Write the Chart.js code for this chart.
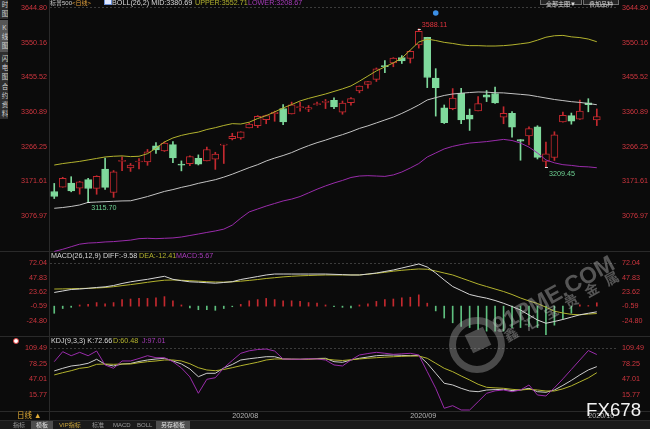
<!DOCTYPE html>
<html><head><meta charset="utf-8">
<script src="https://cdn.jsdelivr.net/npm/chart.js@4.4.1/dist/chart.umd.min.js"></script>
<style>
html,body{margin:0;padding:0;background:#0b0b0b;}
body{width:650px;height:429px;position:relative;overflow:hidden;font-family:"Liberation Sans","Noto Sans CJK SC",Arial,sans-serif;}
canvas{position:absolute;left:0;z-index:2;}
.t{position:absolute;white-space:nowrap;font-size:7.2px;line-height:8px;z-index:3;}
.hl{position:absolute;left:0;width:650px;height:1px;background:#2a2a2a;z-index:1;}
.side{position:absolute;left:0;width:8px;background:#2e2e2e;color:#d0d0d0;font-size:6.5px;writing-mode:vertical-rl;text-orientation:upright;letter-spacing:2.5px;line-height:8px;text-align:center;z-index:3;overflow:hidden;}
.tab{position:absolute;top:421px;height:8px;font-size:6px;line-height:8px;color:#9a9a9a;padding:0 3px;z-index:3;}
.btn{position:absolute;top:-5px;height:10px;border:1px solid #707070;background:#242424;color:#dcdcdc;font-size:6px;line-height:16px;text-align:center;box-sizing:border-box;z-index:3;}
.wm{position:absolute;white-space:nowrap;color:rgba(190,190,190,0.42);font-weight:bold;z-index:4;}
</style></head><body>
<canvas id="cMain" width="650" height="252" style="top:0"></canvas>
<canvas id="cMacd" width="650" height="84" style="top:252px"></canvas>
<canvas id="cKdj" width="650" height="85" style="top:336px"></canvas>

<div class="hl" style="top:251px"></div>
<div class="hl" style="top:336px"></div>
<div class="hl" style="top:411px"></div>
<div class="hl" style="top:420px"></div>
<div style="position:absolute;left:49px;top:0;width:1px;height:421px;background:#2a2a2a;z-index:1"></div>
<div style="position:absolute;left:0;top:421px;width:650px;height:8px;background:#1a1a1a;z-index:1"></div>

<div class="side" style="top:-9px;height:28px;padding-top:0">分时图</div>
<div class="side" style="top:20px;height:31px;background:#565656;padding-top:2px">K线图</div>
<div class="side" style="top:52px;height:30px;padding-top:1px">闪电图</div>
<div class="side" style="top:83px;height:36px">合约资料</div>

<div id="hdrMain"></div>
<div id="hdrMacd"></div>
<div id="hdrKdj"></div>
<div style="position:absolute;left:13px;top:338px;width:4px;height:4px;border:1px solid #e04040;border-radius:50%;background:#fff;z-index:3"></div>

<div class="btn" style="left:540px;width:42px">全部主图▼</div>
<div class="btn" style="left:583px;width:36px">叠加品种</div>

<div class="t" style="left:17px;top:412px;color:#e3ad35;font-size:7.5px">日线 ▲</div>
<div class="tab" style="left:10px">指标</div>
<div class="tab" style="left:31px;background:#4e4e4e;color:#e0e0e0;padding:0 5px">模板</div>
<div class="tab" style="left:56px;color:#cda63a">VIP指标</div>
<div class="tab" style="left:89px">标准</div>
<div class="tab" style="left:110px">MACD</div>
<div class="tab" style="left:134px">BOLL</div>
<div class="tab" style="left:156px;background:#4e4e4e;color:#e0e0e0;padding:0 5px">另存模板</div>

<div style="position:absolute;left:449px;top:317px;width:56px;height:56px;box-sizing:border-box;border:7px solid rgba(170,170,170,0.40);border-radius:50%;z-index:4"></div>
<div style="position:absolute;left:468px;top:330px;width:20px;height:20px;background:rgba(170,170,170,0.40);transform:rotate(-25deg);z-index:4"></div>
<div class="wm" style="left:494px;top:315px;font-size:23px;line-height:24px;transform:rotate(-29deg);transform-origin:0 50%">91PME.COM</div>
<div class="wm" style="left:505px;top:330px;font-size:14px;line-height:16px;letter-spacing:9px;transform:rotate(-29deg);transform-origin:0 50%">鑫汇宝贵金属</div>
<div class="t" style="left:586px;top:400px;font-size:18.7px;line-height:19px;color:#f2f2f2;z-index:5">FX678</div>

<script>
// ---------- data ----------
const symbolName = '标普500';
const periodName = '日线';
const dates = ['2020-07-02','2020-07-06','2020-07-07','2020-07-08','2020-07-09','2020-07-10','2020-07-13','2020-07-14','2020-07-15','2020-07-16','2020-07-17','2020-07-20','2020-07-21','2020-07-22','2020-07-23','2020-07-24','2020-07-27','2020-07-28','2020-07-29','2020-07-30','2020-07-31',
'2020-08-03','2020-08-04','2020-08-05','2020-08-06','2020-08-07','2020-08-10','2020-08-11','2020-08-12','2020-08-13','2020-08-14','2020-08-17','2020-08-18','2020-08-19','2020-08-20','2020-08-21','2020-08-24','2020-08-25','2020-08-26','2020-08-27','2020-08-28','2020-08-31',
'2020-09-01','2020-09-02','2020-09-03','2020-09-04','2020-09-08','2020-09-09','2020-09-10','2020-09-11','2020-09-14','2020-09-15','2020-09-16','2020-09-17','2020-09-18','2020-09-21','2020-09-22','2020-09-23','2020-09-24','2020-09-25','2020-09-28','2020-09-29','2020-09-30',
'2020-10-01','2020-10-02'];
const open = [3143.64,3155.29,3166.44,3153.07,3176.17,3152.47,3205.08,3141.11,3225.98,3208.36,3224.21,3224.29,3268.52,3254.86,3271.64,3218.58,3219.84,3234.27,3227.22,3231.76,3270.45,
3288.26,3289.92,3317.37,3323.17,3340.05,3356.04,3370.34,3355.46,3372.95,3368.66,3380.86,3387.04,3392.51,3360.48,3386.01,3418.09,3435.95,3449.97,3485.14,3494.69,3509.73,
3507.44,3543.76,3564.74,3453.60,3371.88,3369.82,3412.56,3352.70,3363.56,3407.73,3411.23,3346.86,3357.38,3285.57,3295.75,3320.11,3226.14,3236.66,3333.90,3350.92,3341.21,
3385.87,3338.94];
const high = [3165.81,3182.59,3184.15,3171.80,3179.78,3186.82,3235.32,3200.95,3238.28,3220.39,3233.52,3258.61,3277.29,3279.32,3279.99,3227.26,3241.43,3243.72,3264.74,3250.92,3272.17,
3302.73,3306.84,3330.77,3351.03,3352.54,3363.29,3381.01,3387.89,3387.24,3378.51,3387.59,3395.06,3399.54,3390.80,3399.96,3432.09,3444.21,3481.07,3501.38,3509.23,3514.77,
3528.03,3588.11,3564.85,3479.15,3379.97,3424.77,3425.55,3368.95,3402.93,3419.48,3428.92,3375.17,3362.27,3285.57,3320.31,3323.35,3278.70,3306.88,3360.74,3357.92,3393.56,
3397.18,3369.10];
const low = [3124.52,3155.29,3142.93,3136.53,3115.70,3136.22,3149.43,3127.66,3200.76,3198.59,3205.65,3215.16,3247.77,3253.10,3222.66,3200.05,3214.25,3216.17,3227.22,3204.13,3220.26,
3284.53,3286.37,3317.37,3318.14,3328.72,3335.44,3326.44,3355.46,3363.35,3361.64,3379.22,3370.15,3369.66,3354.69,3379.31,3413.13,3425.84,3444.15,3468.35,3484.32,3493.25,
3494.60,3535.23,3427.41,3349.63,3329.27,3366.84,3329.25,3310.47,3363.56,3389.25,3384.45,3328.82,3292.40,3229.10,3270.95,3232.57,3209.45,3228.44,3332.91,3327.54,3340.47,
3361.39,3323.69];
const close = [3130.01,3179.72,3145.32,3169.94,3152.05,3185.04,3155.22,3197.52,3226.56,3215.57,3224.73,3251.84,3257.30,3276.02,3235.66,3215.63,3239.41,3218.44,3258.44,3246.22,3271.12,
3294.61,3306.51,3327.77,3349.16,3351.28,3360.47,3333.69,3380.35,3373.43,3372.85,3381.99,3389.78,3374.85,3385.51,3397.16,3431.28,3443.62,3478.73,3484.55,3508.01,3500.31,
3526.65,3580.84,3455.06,3426.96,3331.84,3398.96,3339.19,3340.97,3383.54,3401.20,3385.49,3357.01,3319.47,3281.06,3315.57,3236.92,3246.59,3298.46,3351.60,3335.47,3363.00,
3380.80,3348.42];

const bollUpper = [3216,3220,3223,3226,3230,3234,3238,3240,3241,3239,3240,3247,3262,3279,3290,3297,3302,3306,3313,3318,3324,3329,3328,3333,3343,3351,3361,3372,3381,3391,
3398,3404,3410,3417,3424,3432,3445,3459,3473,3484,3495,3508,3530,3552,3560,3556,3551,3548,3544,3542,3542,3541,3541,3542,3544,3547,3550,3557,3565,3569,3570,3566,3564,3560,3552.71];
const bollMid = [3097.9,3100,3103,3107,3114,3115,3116,3117,3118,3118.4,3124,3130,3137,3144,3149,3155,3160,3166,3171,3176,3183,3191,3200,3209,3217,3227,3235,3242,3250,3260,
3269,3277,3284,3292,3299,3307,3316,3323,3331,3339,3347,3357,3368,3380,3393.6,3400,3406,3410,3412,3414,3415.5,3415,3413.5,3413,3411,3409,3407,3403,3399,3395,3392,3389,3387,3384,3380.69];
const bollLower = [2980,2986,2993,3000,3003,3004,3006,3007,3009,3011,3015,3016,3015,3016,3017,3019.5,3023.6,3027.7,3032,3036,3041,3052,3071,3088,3096,3104,3111,3118,3123,3130,
3140,3150,3159,3167,3174,3182,3186,3187,3186,3185,3189,3197,3208,3220,3238,3249,3260,3267,3272,3276,3278,3280,3283,3286,3283,3276,3265,3249,3230,3222,3217,3215,3212,3211,3208.67];

const macdDiff = [23.0,25.5,28.0,28.8,30.0,31.4,32.5,34.7,38.1,40.9,43.1,45.1,47.7,50.2,45.1,42.8,40.9,40.3,39.4,38.6,39.8,41.1,44.8,47.3,49.8,52.4,54.0,54.0,54.0,54.0,
54.0,54.0,54.0,53.5,53.0,52.4,52.4,54.0,55.7,58.3,60.8,64.1,67.5,70.9,65.8,55.7,44.0,33.0,26.3,19.6,16.2,13.4,9.5,4.8,-0.6,-6.5,-14.9,-23.3,-28.8,-25.8,-22.4,-18.5,-14.5,-12.0,-9.58];
const macdDea = [28.8,29.0,29.3,29.7,30.0,30.5,31.3,32.7,34.5,36.2,38.1,40.1,42.0,43.6,44.0,43.5,42.8,42.0,41.1,40.6,40.4,40.9,42.0,43.3,44.8,46.5,47.8,49.2,50.2,51.0,
51.5,52.0,52.4,52.4,52.4,52.4,52.4,53.7,55.2,56.9,58.8,60.3,61.5,62.5,62.0,59.1,55.7,52.4,47.3,42.3,37.2,33.0,28.8,24.6,19.6,13.7,8.7,4.5,-1.9,-8.5,-11.5,-13.8,-14.6,-13.3,-12.41];
const macdHist = [-12,-4,-2,2,3,6,4,6,11,12,13,13,14,16,9,2,-3,-6,-6,-7,-4,-1,3,9,11,13,11,9,9,8,
6,5,2,-1,-2,-3,2,4,8,11,12,14,15,19,5,-8,-20,-28,-34,-36,-39,-42,-42,-42,-36,-36,-34,-36,-48,-32,-21,-12,2,1,5.67];

const kdjK = [64,69.3,73.9,75.9,79.4,87.4,77.3,73.9,77.9,79,83,86,88,89.4,84,78,68,52.4,59.3,59.3,70,77,86,88.5,90.5,92.6,92.6,88,87.6,87.4,
88,89,89.4,82.6,81.3,86,89.4,92,94.6,95.5,96,95.3,94.6,95.3,79.4,59.3,39.2,35.8,29.1,23.7,22.3,25.7,26.5,27.1,24.5,25.7,29.1,22.3,21.1,25.7,35,45,56,66,72.66];
const kdjD = [56,60.5,64.5,69.3,71.3,77.3,77.9,77.3,77.9,77.9,80.5,82.6,84,86,86,84,78.5,70.5,65.9,64.5,67,70.5,74.5,78,81.5,86,88,88,87.6,87.4,
87.6,88,88,86,85,86.5,88,89.5,90.6,91.7,92.6,93.3,94,94,89.4,79.4,69.3,62.5,53.9,45.8,37.2,31.1,30,29.1,27.1,25.7,27.1,25.7,23.7,23.7,28,34,42,50,60.48];
const kdjJ = [82.6,102.7,94.6,101.4,94.6,104.1,75.9,69.3,84,84,89,94.6,90.6,90.6,82.6,70,52,19.1,47.2,50.4,70,85,99.4,104.5,107,108,104,88,87.6,87.4,
88.5,88,86,76,74,86,96,99,101.4,99.5,97.4,98.4,99.4,96,62.5,29.1,-11,-5.8,-14.5,-14.5,2.2,19.1,24,25.7,22.3,25.7,35.8,15.7,13.7,30,48,67,86,105,97.01];

const priceTicks = [3644.80, 3550.16, 3455.52, 3360.89, 3266.25, 3171.61, 3076.97];
const macdTicks = [72.04, 47.83, 23.62, -0.59, -24.80];
const kdjTicks = [109.49, 78.25, 47.01, 15.77];
const monthTickDates = ['2020-08-03', '2020-09-01', '2020-10-01'];
const monthTickLabels = ['2020/08', '2020/09', '2020/10'];
const highMarkDates = ['2020-09-02'];
const lowMarkDates = ['2020-07-09', '2020-09-24'];
const eventDates = ['2020-09-04'];

// ---------- style ----------
const BG = '#0b0b0b';
const RED = '#c4292f';
const GREEN = '#7fd99c';
const AXIS_RED = '#d0363f';
const FONT = '"Liberation Sans", Arial, sans-serif';
const C_WHITE = '#cdcdcd', C_YEL = '#b3b32e', C_PUR = '#9a2cab';

const xLabels = dates.concat([' ', '  ']);
const up = dates.map((d, i) => close[i] >= open[i]);

function xScale(show) {
  const s = {type: 'category', labels: xLabels, offset: true, display: show,
    grid: {display: false, drawTicks: false, tickLength: 0}, border: {display: false}};
  if (show) {
    s.ticks = {autoSkip: false, maxRotation: 0, minRotation: 0, align: 'start', padding: 1,
      color: '#b5b5b5', font: {family: FONT, size: 7.2},
      callback: (v, i) => { const k = monthTickDates.indexOf(xLabels[i]); return k >= 0 ? monthTickLabels[k] : ''; }};
    s.afterFit = sc => { sc.height = 10; sc.paddingLeft = 0; sc.paddingRight = 0; };
  }
  return s;
}
function yScales(min, max, tickArr) {
  const mk = (pos) => ({
    type: 'linear', position: pos, min: min, max: max,
    afterBuildTicks: s => { s.ticks = tickArr.map(v => ({value: v})); },
    ticks: {color: AXIS_RED, autoSkip: false, padding: pos === 'left' ? 3 : 4,
      font: {family: FONT, size: 7.2}, callback: v => Number(v).toFixed(2)},
    border: {display: false, dash: [2, 2]},
    grid: pos === 'left'
      ? {drawTicks: false, lineWidth: 1, color: c => (c.tick && c.tick.value === tickArr[0]) ? '#3c3c3c' : 'rgba(0,0,0,0)'}
      : {display: false, drawTicks: false},
    afterFit: s => { s.width = pos === 'left' ? 50 : 32; s.paddingTop = 0; s.paddingBottom = 0; }
  });
  return {y: mk('left'), y2: mk('right')};
}
const baseOpts = {responsive: false, animation: false, devicePixelRatio: 1, events: [],
  layout: {autoPadding: false, padding: 0},
  plugins: {legend: {display: false}, tooltip: {enabled: false}}};
function line(data, color, order) {
  return {type: 'line', data: data, borderColor: color, borderWidth: 1, pointRadius: 0, tension: 0, fill: false, order: order, yAxisID: 'y'};
}

// ---------- main chart ----------
const markPlugin = {
  id: 'marks',
  afterDatasetsDraw(chart) {
    const {ctx, scales: {x, y}, chartArea} = chart;
    ctx.save();
    ctx.font = '7.2px ' + FONT;
    ctx.textAlign = 'left'; ctx.textBaseline = 'middle';
    const draw = (d, isHigh) => {
      const i = dates.indexOf(d);
      const v = isHigh ? high[i] : low[i];
      const px = x.getPixelForValue(i), py = y.getPixelForValue(v);
      ctx.strokeStyle = '#e6e6e6'; ctx.lineWidth = 1;
      ctx.beginPath(); ctx.moveTo(px - 1, Math.round(py) + 0.5); ctx.lineTo(px + 2, Math.round(py) + 0.5); ctx.stroke();
      ctx.fillStyle = isHigh ? '#e0343e' : '#6fd394';
      ctx.fillText(v.toFixed(2), px + 3, isHigh ? py - 4 : py + 6.5);
    };
    highMarkDates.forEach(d => draw(d, true));
    lowMarkDates.forEach(d => draw(d, false));
    eventDates.forEach(d => {
      const px = x.getPixelForValue(dates.indexOf(d));
      ctx.fillStyle = '#3b8fe6';
      ctx.beginPath(); ctx.arc(px, chartArea.top + 13, 2.8, 0, Math.PI * 2); ctx.fill();
    });
    ctx.restore();
  }
};
new Chart(document.getElementById('cMain'), {
  type: 'bar',
  data: {labels: xLabels, datasets: [
    line(bollUpper, C_YEL, 1), line(bollMid, '#c4c4c4', 1), line(bollLower, C_PUR, 1),
    {type: 'bar', data: dates.map((d, i) => [open[i], close[i]]), grouped: false, order: 2, yAxisID: 'y',
      barThickness: 7, minBarLength: 1, borderWidth: 1, borderSkipped: false,
      backgroundColor: up.map(u => u ? BG : GREEN), borderColor: up.map(u => u ? RED : GREEN)},
    {type: 'bar', data: dates.map((d, i) => [low[i], high[i]]), grouped: false, order: 3, yAxisID: 'y',
      barThickness: 1, borderWidth: 0, backgroundColor: up.map(u => u ? RED : GREEN)}
  ]},
  options: Object.assign({}, baseOpts, {scales: Object.assign({x: xScale(false)}, yScales(2978.56, 3666.64, priceTicks))}),
  plugins: [markPlugin]
});

// ---------- MACD ----------
new Chart(document.getElementById('cMacd'), {
  type: 'bar',
  data: {labels: xLabels, datasets: [
    line(macdDiff, '#d6d6d6', 1), line(macdDea, C_YEL, 1),
    {type: 'bar', data: macdHist, grouped: false, order: 2, yAxisID: 'y', barThickness: 1, borderWidth: 0,
      backgroundColor: macdHist.map(v => v >= 0 ? RED : '#5ebf7e')}
  ]},
  options: Object.assign({}, baseOpts, {scales: Object.assign({x: xScale(false)}, yScales(-50.2, 91.04, macdTicks))})
});

// ---------- KDJ ----------
new Chart(document.getElementById('cKdj'), {
  type: 'line',
  data: {labels: xLabels, datasets: [line(kdjK, C_WHITE, 3), line(kdjD, C_YEL, 2), line(kdjJ, C_PUR, 1)]},
  options: Object.assign({}, baseOpts, {scales: Object.assign({x: xScale(true)}, yScales(-16.5, 134.2, kdjTicks))})
});

// ---------- headers ----------
const last = a => a[a.length - 1].toFixed(2);
function span(x, y, color, text, size) {
  return `<div class="t" style="left:${x}px;top:${y}px;color:${color}${size ? ';font-size:' + size + 'px' : ''}">${text}</div>`;
}
document.getElementById('hdrMain').innerHTML =
  span(50, -1.5, '#cfcfcf', symbolName, 6) + span(72, -1.5, '#e6a23c', '&lt;' + periodName + '&gt;', 6) +
  '<div style="position:absolute;left:104px;top:-2px;width:6px;height:5px;background:#dfe8ff;border:1px solid #6a8fd8;z-index:3"></div>' +
  span(112, -1.5, '#d8d8d8', `BOLL(26,2) MID:${last(bollMid)}`) +
  span(195, -1.5, C_YEL, `UPPER:${last(bollUpper)}`) +
  span(248, -1.5, '#a83cbb', `LOWER:${last(bollLower)}`);
document.getElementById('hdrMacd').innerHTML =
  span(51, 252.2, '#d8d8d8', `MACD(26,12,9) DIFF:${last(macdDiff)}`) +
  span(139, 252.2, C_YEL, `DEA:${last(macdDea)}`) +
  span(176, 252.2, '#a83cbb', `MACD:${last(macdHist)}`);
document.getElementById('hdrKdj').innerHTML =
  span(51, 337.2, '#d8d8d8', `KDJ(9,3,3) K:${last(kdjK)}`) +
  span(113, 337.2, C_YEL, `D:${last(kdjD)}`) +
  span(142, 337.2, '#a83cbb', `J:${last(kdjJ)}`);
</script>
</body></html>
